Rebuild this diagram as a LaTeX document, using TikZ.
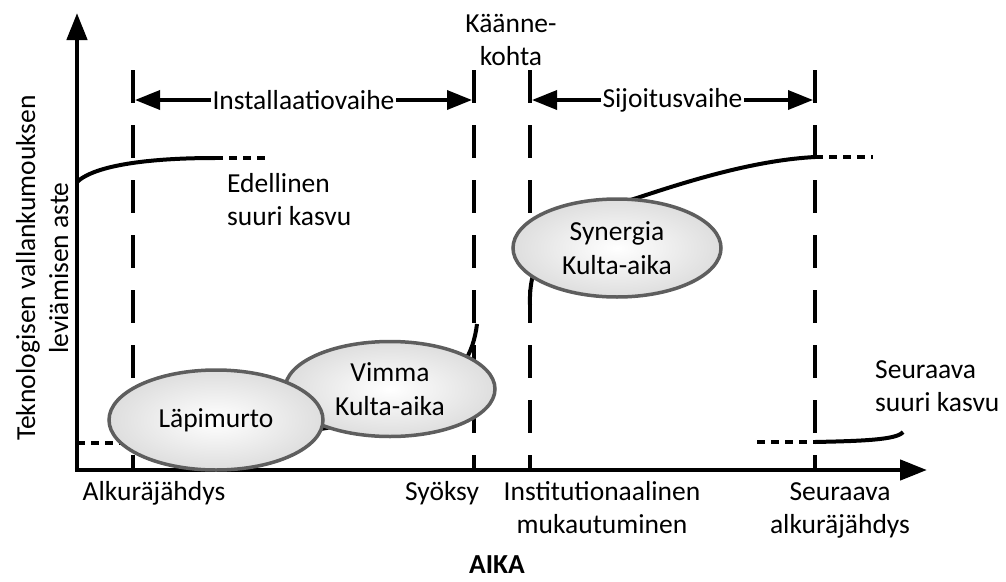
\documentclass[tikz,border=0pt]{standalone}
\usepackage{fontspec}
\setmainfont{Carlito}
\usetikzlibrary{arrows.meta,shapes.geometric}

\begin{document}
\begin{tikzpicture}[x=1pt,y=-1pt,
  lbl/.style={font=\fontsize{27.5}{33.5}\selectfont, inner sep=0pt, align=center},
  axisline/.style={line width=4.5pt, -{Triangle[length=27pt,width=20pt]}},
  phase/.style={line width=3.5pt, {Triangle[length=25pt,width=19pt]}-{Triangle[length=25pt,width=19pt]}},
  phasetext/.style={lbl, fill=white, inner xsep=2pt, inner ysep=1pt},
  boundary/.style={line width=4pt, dash pattern=on 33pt off 22pt},
  growth/.style={line width=4pt},
  trail/.style={line width=4pt, dash pattern=on 8pt off 6pt},
  era/.style={ellipse, lbl, draw=black!63, line width=3.5pt,
    inner color=white, outer color=black!13},
]
\useasboundingbox (0,0) rectangle (1006,581);

% axes
\coordinate (origin) at (77,470);
\coordinate (ytip) at (77,13);
\coordinate (xstart) at (74.75,470);
\coordinate (xtip) at (927,470);
\draw[axisline] (origin) -- (ytip);
\draw[axisline] (xstart) -- (xtip);

% phase boundaries
\foreach \name/\x in {bigbang/133, crash/474, turn/530, nextbang/815} {
  \coordinate (\name-top) at (\x,70);
  \coordinate (\name-bot) at (\x,470);
  \draw[boundary] (\name-top) -- (\name-bot);
}

% phase spans
\coordinate (instL) at (135,100);
\coordinate (instR) at (472,100);
\coordinate (sijL) at (532,100);
\coordinate (sijR) at (813,100);
\draw[phase] (instL) -- (instR)
  node[phasetext, midway] (inst) {Installaatiovaihe};
\draw[phase] (sijL) -- (sijR)
  node[phasetext, midway] (sij) {Sijoitusvaihe};

\node[lbl, anchor=base] (turnA) at (511,32) {Käänne-};
\node[lbl, anchor=base] (turnB) at (511,65) {kohta};

% previous surge
\coordinate (prevS) at (77,182);
\coordinate (prevE) at (215,158);
\coordinate (prevD) at (268,158);
\draw[growth] (prevS) .. controls (95,165) and (150,158) .. (prevE);
\draw[trail] (prevE) -- (prevD);
\node[lbl, anchor=base west] (prevA) at (227,192) {Edellinen};
\node[lbl, anchor=base west] (prevB) at (227,225) {suuri kasvu};

% installation period curve
\coordinate (instD) at (77,443);
\coordinate (instS) at (125,443);
\coordinate (instE) at (477,324);
\draw[trail] (instD) -- (instS);
\draw[growth] (instS) .. controls (430,440) and (470,380) .. (instE);

% deployment period curve
\coordinate (depS) at (530,305);
\coordinate (depM) at (640,197);
\coordinate (depE) at (815,157);
\coordinate (depD) at (873,157);
\draw[growth] (depS) .. controls (528,250) and (560,222) .. (depM)
  .. controls (700,177) and (760,160) .. (depE);
\draw[trail] (depE) -- (depD);

% next surge
\coordinate (nextD) at (757,442);
\coordinate (nextS) at (815,442);
\coordinate (nextE) at (903,432);
\draw[trail] (nextD) -- (nextS);
\draw[growth] (nextS) .. controls (860,441) and (897,440) .. (nextE);
\node[lbl, anchor=base west] (nextA) at (875,378) {Seuraava};
\node[lbl, anchor=base west] (nextB) at (875,411) {suuri kasvu};

% eras
\node[era, minimum width=210pt, minimum height=95pt] (frenzy) at (390,389) {Vimma\\Kulta-aika};
\node[era, minimum width=214pt, minimum height=100pt] (irruption) at (216,420) {Läpimurto};
\node[era, minimum width=208pt, minimum height=98pt] (synergy) at (617,248) {Synergia\\Kulta-aika};

% time axis labels
\node[lbl, anchor=base] (bigbang) at (154,500) {Alkuräjähdys};
\node[lbl, anchor=base] (crash) at (442,500) {Syöksy};
\node[lbl, anchor=base] (instA) at (602,500) {Institutionaalinen};
\node[lbl, anchor=base] (instB) at (602,533) {mukautuminen};
\node[lbl, anchor=base] (nbA) at (840,500) {Seuraava};
\node[lbl, anchor=base] (nbB) at (840,533) {alkuräjähdys};
\node[lbl, anchor=base, font=\fontsize{27.5}{33.5}\selectfont\bfseries] (time) at (497,573) {AIKA};

% vertical axis label
\node[lbl, anchor=base, rotate=90] (yA) at (35,268) {Teknologisen vallankumouksen};
\node[lbl, anchor=base, rotate=90] (yB) at (68,268) {leviämisen aste};
\end{tikzpicture}
\end{document}
